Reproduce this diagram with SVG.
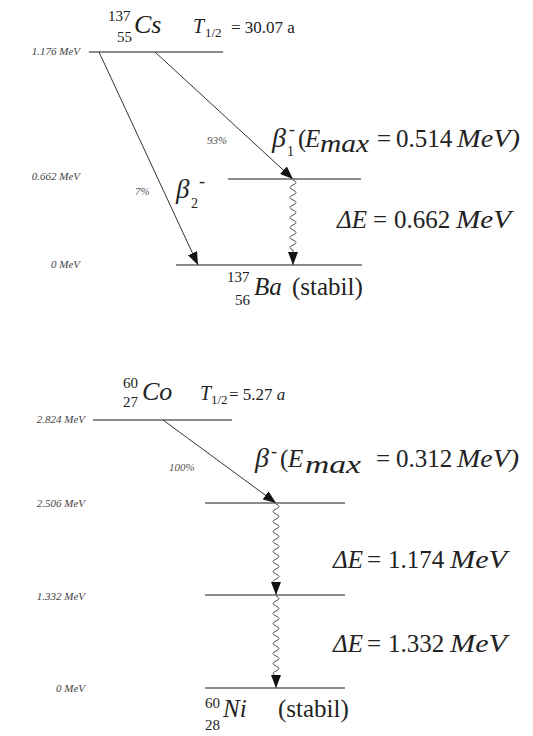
<svg xmlns="http://www.w3.org/2000/svg" width="533" height="736" viewBox="0 0 533 736" font-family="'Liberation Serif','DejaVu Serif',serif">
<style>
text{font-family:'Liberation Serif','DejaVu Serif',serif;fill:#222}
.lv{font-size:11px;font-style:italic;fill:#444}
.pc{font-size:11px;font-style:italic;fill:#555}
.it{font-style:italic}
.big{font-size:25px}
.nuc{font-size:15px}
.level{stroke:#666;stroke-width:1.6;fill:none}
.arr{stroke:#333;stroke-width:1;fill:none;marker-end:url(#ah)}
.wave{stroke:#555;stroke-width:1;fill:none;marker-end:url(#ah)}
</style>
<defs>
<marker id="ah" markerUnits="userSpaceOnUse" markerWidth="13" markerHeight="10" refX="13" refY="5" orient="auto">
<path d="M0,0 L13,5 L0,10 z" fill="#111"/>
</marker>
</defs>
<rect width="533" height="736" fill="#fff"/>

<!-- Cs-137 scheme -->
<g id="cs137-parent">
<line class="level" x1="89" y1="52" x2="223" y2="52"/>
<text class="lv" x="80" y="55" text-anchor="end">1.176 MeV</text>
<text class="nuc" x="108" y="21">137</text>
<text class="nuc" x="117" y="42">55</text>
<text class="it" x="134" y="33" font-size="26">Cs</text>
<text x="193" y="33" font-size="17"><tspan class="it" font-size="20">T</tspan><tspan font-size="13" x="205" dy="4">1/2</tspan><tspan x="231" dy="-4">= 30.07 a</tspan></text>
</g>
<g id="ba137-excited">
<line class="level" x1="228" y1="179" x2="361" y2="179"/>
<text class="lv" x="80" y="180" text-anchor="end">0.662 MeV</text>
</g>
<g id="ba137-ground">
<line class="level" x1="176" y1="265" x2="362" y2="265"/>
<text class="lv" x="80" y="268" text-anchor="end">0 MeV</text>
<text class="nuc" x="227" y="282">137</text>
<text class="nuc" x="235" y="305">56</text>
<text class="big" x="254" y="295"><tspan class="it">Ba</tspan><tspan x="292">(stabil)</tspan></text>
</g>

<!-- Co-60 scheme -->
<g id="co60-parent">
<line class="level" x1="93" y1="420" x2="232" y2="420"/>
<text class="lv" x="85" y="423" text-anchor="end">2.824 MeV</text>
<text class="nuc" x="123" y="388">60</text>
<text class="nuc" x="123" y="407">27</text>
<text class="it" x="142" y="400" font-size="26">Co</text>
<text x="200" y="400" font-size="17"><tspan class="it" font-size="20">T</tspan><tspan font-size="13" x="211" dy="4">1/2</tspan><tspan x="229" dy="-4">= 5.27 </tspan><tspan class="it">a</tspan></text>
</g>
<g id="ni60-level2">
<line class="level" x1="205" y1="503" x2="345" y2="503"/>
<text class="lv" x="85" y="507" text-anchor="end">2.506 MeV</text>
</g>
<g id="ni60-level1">
<line class="level" x1="205" y1="595" x2="345" y2="595"/>
<text class="lv" x="85" y="600" text-anchor="end">1.332 MeV</text>
</g>
<g id="ni60-ground">
<line class="level" x1="205" y1="688" x2="345" y2="688"/>
<text class="lv" x="85" y="692" text-anchor="end">0 MeV</text>
<text class="nuc" x="205" y="708">60</text>
<text class="nuc" x="205" y="730">28</text>
<text class="big" x="223" y="717"><tspan class="it">Ni</tspan><tspan x="278">(stabil)</tspan></text>
</g>

<g id="connectors">
<line class="arr" x1="99" y1="52" x2="198" y2="265"/>
<line class="arr" x1="155" y1="52" x2="293" y2="179"/>
<path class="wave" d="M293,180 q6,2.5 0,5 q-6,2.5 0,5 q6,2.5 0,5 q-6,2.5 0,5 q6,2.5 0,5 q-6,2.5 0,5 q6,2.5 0,5 q-6,2.5 0,5 q6,2.5 0,5 q-6,2.5 0,5 q6,2.5 0,5 q-6,2.5 0,5 q6,2.5 0,5 q-6,2.5 0,5 V265"/>
<line class="arr" x1="163" y1="420" x2="276" y2="503"/>
<path class="wave" d="M276,504 q6,2.5 0,5 q-6,2.5 0,5 q6,2.5 0,5 q-6,2.5 0,5 q6,2.5 0,5 q-6,2.5 0,5 q6,2.5 0,5 q-6,2.5 0,5 q6,2.5 0,5 q-6,2.5 0,5 q6,2.5 0,5 q-6,2.5 0,5 q6,2.5 0,5 q-6,2.5 0,5 q6,2.5 0,5 q-6,2.5 0,5 V595"/>
<path class="wave" d="M276,596 q6,2.5 0,5 q-6,2.5 0,5 q6,2.5 0,5 q-6,2.5 0,5 q6,2.5 0,5 q-6,2.5 0,5 q6,2.5 0,5 q-6,2.5 0,5 q6,2.5 0,5 q-6,2.5 0,5 q6,2.5 0,5 q-6,2.5 0,5 q6,2.5 0,5 q-6,2.5 0,5 q6,2.5 0,5 q-6,2.5 0,5 V688"/>
</g>

<g id="labels">
<text class="pc" x="207" y="144">93%</text>
<text class="pc" x="135" y="195">7%</text>
<text class="pc" x="169" y="471">100%</text>
<text font-size="27" x="176" y="198"><tspan class="it">β</tspan><tspan font-size="14" x="191" y="208">2</tspan><tspan font-size="18" x="199" y="187">-</tspan></text>
<text class="big" x="272" y="147"><tspan class="it" font-size="28">β</tspan><tspan font-size="14" x="287" y="156">1</tspan><tspan font-size="18" x="289" y="135">-</tspan><tspan x="298" y="147">(</tspan><tspan class="it" x="305">E</tspan><tspan class="it" x="320" y="152" textLength="49" lengthAdjust="spacingAndGlyphs">max</tspan><tspan x="377" y="147">=</tspan><tspan x="396">0.514</tspan><tspan class="it" x="457" textLength="63" lengthAdjust="spacingAndGlyphs">MeV)</tspan></text>
<text class="big" x="337" y="228"><tspan class="it">ΔE</tspan><tspan x="373">=</tspan><tspan x="394">0.662</tspan><tspan class="it" x="456" textLength="55" lengthAdjust="spacingAndGlyphs">MeV</tspan></text>
<text class="big" x="255" y="467"><tspan class="it" font-size="28">β</tspan><tspan font-size="18" x="271" y="457">-</tspan><tspan x="280" y="467">(</tspan><tspan class="it" x="288">E</tspan><tspan class="it" x="305" y="473" textLength="56" lengthAdjust="spacingAndGlyphs">max</tspan><tspan x="376" y="467">=</tspan><tspan x="396">0.312</tspan><tspan class="it" x="457" textLength="62" lengthAdjust="spacingAndGlyphs">MeV)</tspan></text>
<text class="big" x="333" y="568"><tspan class="it">ΔE</tspan><tspan x="367">=</tspan><tspan x="388">1.174</tspan><tspan class="it" x="450" textLength="57" lengthAdjust="spacingAndGlyphs">MeV</tspan></text>
<text class="big" x="333" y="652"><tspan class="it">ΔE</tspan><tspan x="367">=</tspan><tspan x="388">1.332</tspan><tspan class="it" x="450" textLength="57" lengthAdjust="spacingAndGlyphs">MeV</tspan></text>
</g>
</svg>
